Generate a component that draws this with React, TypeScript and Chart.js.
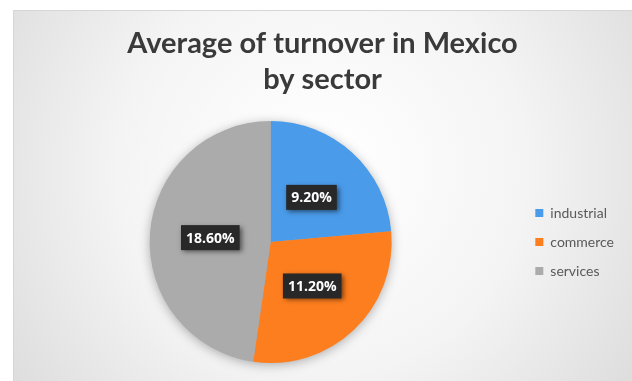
import React, { useEffect, useRef } from "react";
import { Chart, registerables } from "chart.js";

Chart.register(...registerables);

const categories = ["industrial", "commerce", "services"];
const values = [9.2, 11.2, 18.6];
const sliceColors = ["#4A9BEA", "#FD7E1F", "#ABABAB"];
const titleLines = ["Average of turnover in Mexico", "by sector"];

const backgroundPlugin = {
  id: "frameBackground",
  beforeDraw(chart: any) {
    const { ctx, width, height } = chart;
    ctx.save();
    ctx.fillStyle = "#ffffff";
    ctx.fillRect(0, 0, width, height);
    const fx = 13, fy = 10;
    const g = ctx.createRadialGradient(322, 170, 20, 322, 170, 430);
    g.addColorStop(0, "#ffffff");
    g.addColorStop(0.45, "#f4f4f4");
    g.addColorStop(1, "#d6d6d6");
    ctx.fillStyle = g;
    ctx.fillRect(fx, fy, width - fx + 2, height - fy + 2);
    ctx.strokeStyle = "#d6d6d6";
    ctx.lineWidth = 1;
    ctx.strokeRect(fx + 0.5, fy + 0.5, width - fx + 4, height - fy + 4);
    ctx.restore();
  },
};

const pieShadowPlugin = {
  id: "pieShadow",
  beforeDatasetsDraw(chart: any) {
    const meta = chart.getDatasetMeta(0);
    const arc = meta.data[0];
    if (!arc) return;
    const { ctx } = chart;
    ctx.save();
    ctx.shadowColor = "rgba(0,0,0,0.35)";
    ctx.shadowBlur = 12;
    ctx.shadowOffsetY = 2;
    ctx.fillStyle = "#aaaaaa";
    ctx.beginPath();
    ctx.arc(arc.x, arc.y, arc.outerRadius - 1, 0, Math.PI * 2);
    ctx.fill();
    ctx.restore();
  },
};

const dataLabelPlugin = {
  id: "darkLabels",
  afterDatasetsDraw(chart: any) {
    const { ctx } = chart;
    const meta = chart.getDatasetMeta(0);
    const ds = chart.data.datasets[0];
    ctx.save();
    ctx.font = "bold 14px 'Open Sans'";
    ctx.textAlign = "center";
    ctx.textBaseline = "middle";
    meta.data.forEach((el: any, i: number) => {
      const p = el.tooltipPosition();
      const text = Number(ds.data[i]).toFixed(2) + "%";
      const tw = ctx.measureText(text).width;
      const w = tw + 10;
      const h = 25;
      ctx.save();
      ctx.shadowColor = "rgba(0,0,0,0.55)";
      ctx.shadowBlur = 5;
      ctx.shadowOffsetX = 2;
      ctx.shadowOffsetY = 2;
      ctx.fillStyle = "#282828";
      ctx.fillRect(p.x - w / 2, p.y - h / 2, w, h);
      ctx.restore();
      ctx.fillStyle = "#ffffff";
      ctx.fillText(text, p.x, p.y + 1);
    });
    ctx.restore();
  },
};

export default function App() {
  const ref = useRef<HTMLCanvasElement | null>(null);
  useEffect(() => {
    if (!ref.current) return;
    const chart = new Chart(ref.current, {
      type: "pie",
      data: {
        labels: categories,
        datasets: [
          {
            data: values,
            backgroundColor: sliceColors,
            borderWidth: 0,
          },
        ],
      },
      options: {
        responsive: false,
        animation: false,
        layout: { padding: { left: 21, right: 8, top: 10, bottom: 18 } },
        plugins: {
          title: {
            display: true,
            text: titleLines,
            color: "#3a3a3a",
            font: { family: "Lato", size: 29, weight: "bold", lineHeight: 36 / 29 },
            padding: { top: 16, bottom: 23 },
          },
          legend: {
            position: "right",
            fullSize: false,
            labels: {
              boxWidth: 8,
              boxHeight: 8,
              padding: 15,
              color: "#595959",
              font: { family: "Lato", size: 14 },
            },
          },
          tooltip: { enabled: false },
        },
      } as any,
      plugins: [backgroundPlugin, pieShadowPlugin, dataLabelPlugin],
    });
    return () => chart.destroy();
  }, []);
  return (
    <div style={{ position: "absolute", left: 0, top: 0, width: 632, height: 381 }}>
      <canvas ref={ref} width={632} height={381} />
    </div>
  );
}
